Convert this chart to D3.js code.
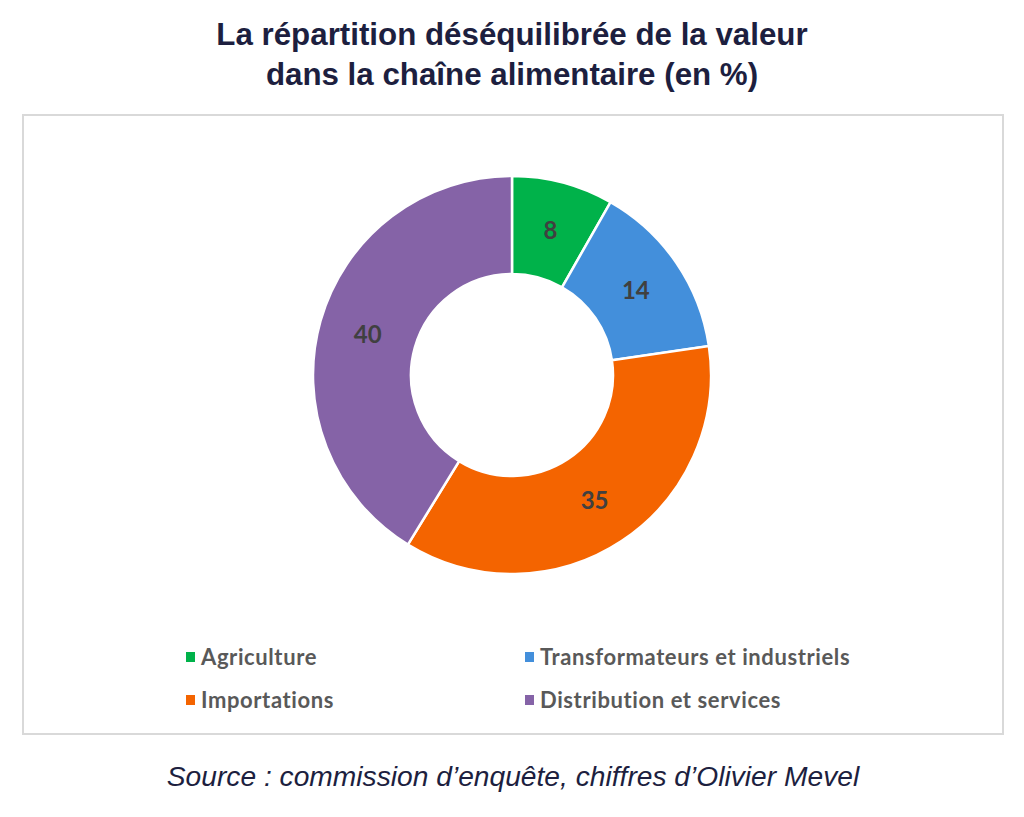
<!DOCTYPE html>
<html>
<head>
<meta charset="utf-8">
<script src="https://cdn.jsdelivr.net/npm/d3@7"></script>
<style>
  body { margin: 0; background: #fff; }
</style>
</head>
<body>
<div id="chart"></div>
<script>
// data
var categories = ["Agriculture", "Transformateurs et industriels", "Importations", "Distribution et services"];
var values = [8, 14, 35, 40];
var colors = ["#00b24a", "#438fdb", "#f46400", "#8563a7"];
var titleLines = ["La répartition déséquilibrée de la valeur", "dans la chaîne alimentaire (en %)"];
var sourceText = "Source : commission d’enquête, chiffres d’Olivier Mevel";

var width = 1024, height = 817;

var svg = d3.select("#chart")
    .append("svg")
    .attr("width", width)
    .attr("height", height);

svg.append("rect")
    .attr("width", width)
    .attr("height", height)
    .attr("fill", "#fff");

// title
svg.selectAll(".title")
    .data(titleLines)
    .enter()
    .append("text")
    .attr("class", "title")
    .attr("x", 512)
    .attr("y", function(d, i){ return 45 + i * 40; })
    .attr("text-anchor", "middle")
    .attr("font-family", "Liberation Sans, Arial, sans-serif")
    .attr("font-weight", "bold")
    .attr("font-size", "31.3px")
    .attr("fill", "#1d1f3f")
    .text(function(d){ return d; });

// chart frame
svg.append("rect")
    .attr("x", 23)
    .attr("y", 115)
    .attr("width", 980)
    .attr("height", 619)
    .attr("fill", "none")
    .attr("stroke", "#d9d9d9")
    .attr("stroke-width", 2);

// donut
var cx = 512, cy = 375;
var pie = d3.pie().sort(null).value(function(d){ return d; });
var arc = d3.arc().innerRadius(101).outerRadius(199);

var g = svg.append("g").attr("transform", "translate(" + cx + "," + cy + ")");

var slices = g.selectAll("g.slice")
    .data(pie(values))
    .enter()
    .append("g")
    .attr("class", "slice");

slices.append("path")
    .attr("d", arc)
    .attr("fill", function(d, i){ return colors[i]; })
    .attr("stroke", "#fff")
    .attr("stroke-width", 2.5);

slices.append("text")
    .attr("transform", function(d){ return "translate(" + arc.centroid(d) + ")"; })
    .attr("text-anchor", "middle")
    .attr("dy", "0.36em")
    .attr("font-family", "Lato, Open Sans, sans-serif")
    .attr("font-weight", "bold")
    .attr("font-size", "24px")
    .attr("fill", "#404040")
    .text(function(d){ return d.data; });

// legend, two columns
var legend = svg.selectAll("g.legend")
    .data(categories)
    .enter()
    .append("g")
    .attr("class", "legend")
    .attr("transform", function(d, i){
        return "translate(" + (i % 2 === 0 ? 186 : 525) + "," + (Math.floor(i / 2) === 0 ? 657 : 700) + ")";
    });

legend.append("rect")
    .attr("x", 0)
    .attr("y", -5)
    .attr("width", 9)
    .attr("height", 10)
    .attr("fill", function(d, i){ return colors[i]; });

legend.append("text")
    .attr("x", 15)
    .attr("dy", "0.35em")
    .attr("font-family", "Lato, Open Sans, sans-serif")
    .attr("font-weight", "bold")
    .attr("font-size", "22px")
    .attr("letter-spacing", "0.6px")
    .attr("fill", "#595959")
    .text(function(d){ return d; });

// source line
svg.append("text")
    .attr("x", 513)
    .attr("y", 786)
    .attr("text-anchor", "middle")
    .attr("font-family", "Liberation Sans, Arial, sans-serif")
    .attr("font-style", "italic")
    .attr("font-size", "28.2px")
    .attr("fill", "#1d1f3f")
    .text(sourceText);
</script>
</body>
</html>
